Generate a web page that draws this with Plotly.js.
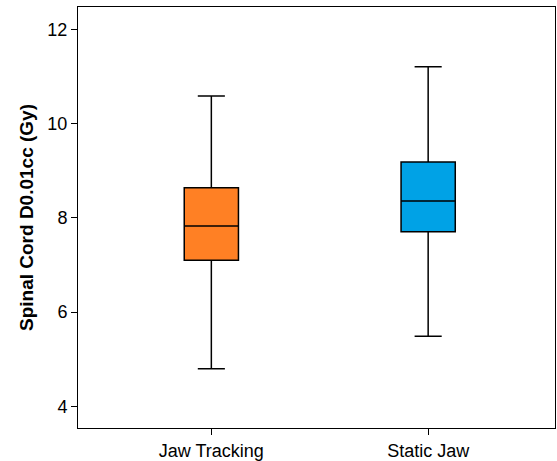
<!DOCTYPE html>
<html>
<head>
<meta charset="utf-8">
<script src="https://cdn.plot.ly/plotly-3.0.1.min.js"></script>
<style>html,body{margin:0;padding:0;background:#fff;}#chart{width:557px;height:461px;}</style>
</head>
<body>
<div id="chart"></div>
<script>
const categories = ["Jaw Tracking", "Static Jaw"];
const lowerWhisker = [4.80, 5.49];
const q1 = [7.10, 7.71];
const median = [7.83, 8.36];
const q3 = [8.64, 9.19];
const upperWhisker = [10.59, 11.21];
const colors = ["#FF8024", "#00A2E6"];
const yTicks = [4, 6, 8, 10, 12];

const traces = categories.map((c, i) => ({
  type: "box",
  x: [c],
  q1: [q1[i]],
  median: [median[i]],
  q3: [q3[i]],
  lowerfence: [lowerWhisker[i]],
  upperfence: [upperWhisker[i]],
  fillcolor: colors[i],
  line: {color: "#000000", width: 1.5},
  width: 0.25,
  whiskerwidth: 0.5,
  boxpoints: false,
  hoverinfo: "skip",
  showlegend: false
}));

const layout = {
  width: 557, height: 461,
  margin: {l: 78, r: 2, t: 7, b: 33},
  paper_bgcolor: "#ffffff",
  plot_bgcolor: "#ffffff",
  font: {family: "Liberation Sans, Arial, sans-serif", color: "#000"},
  xaxis: {
    type: "category",
    range: [-0.615, 1.585],
    showgrid: false, zeroline: false,
    showline: true, linecolor: "#000", linewidth: 1, mirror: true,
    ticks: "outside", ticklen: 6, tickcolor: "#000",
    tickfont: {size: 18, color: "#000"}
  },
  yaxis: {
    range: [3.54, 12.48],
    tickvals: yTicks,
    ticktext: yTicks.map(String),
    showgrid: false, zeroline: false,
    showline: true, linecolor: "#000", linewidth: 1, mirror: true,
    ticks: "outside", ticklen: 6, tickcolor: "#000",
    tickfont: {size: 18, color: "#000"},
    title: {text: "<b>Spinal Cord D0.01cc (Gy)</b>", font: {size: 19, color: "#000"}, standoff: 8}
  }
};

Plotly.newPlot("chart", traces, layout, {displayModeBar: false, staticPlot: true});
</script>
</body>
</html>
